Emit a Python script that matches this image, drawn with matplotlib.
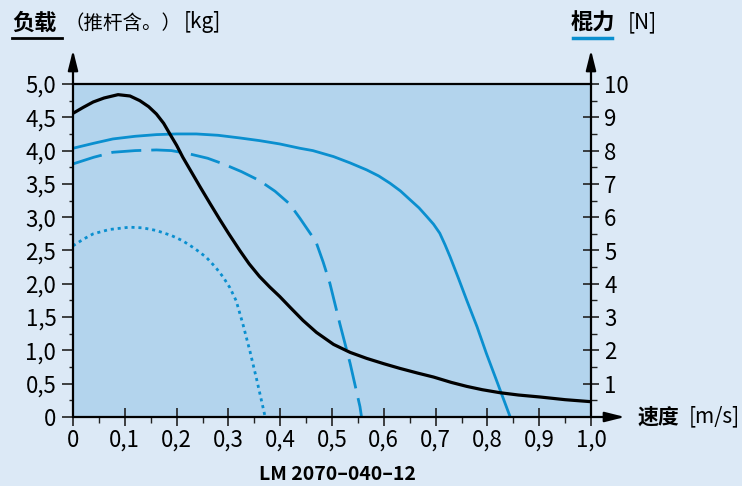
import matplotlib
matplotlib.use("Agg")
import matplotlib.pyplot as plt
from matplotlib.lines import Line2D

plt.rcParams['font.family'] = ['Noto Sans CJK SC', 'DejaVu Sans']

# datos
x_ticks = [0, 0.1, 0.2, 0.3, 0.4, 0.5, 0.6, 0.7, 0.8, 0.9, 1.0]
x_labels = ['0', '0,1', '0,2', '0,3', '0,4', '0,5', '0,6', '0,7', '0,8', '0,9', '1,0']
kg_ticks = [0, 0.5, 1.0, 1.5, 2.0, 2.5, 3.0, 3.5, 4.0, 4.5, 5.0]
kg_labels = ['0', '0,5', '1,0', '1,5', '2,0', '2,5', '3,0', '3,5', '4,0', '4,5', '5,0']
n_ticks = [1, 2, 3, 4, 5, 6, 7, 8, 9, 10]
n_labels = ['1', '2', '3', '4', '5', '6', '7', '8', '9', '10']

# carga [kg] (negro)
speed_load = [0, 0.02, 0.039, 0.06, 0.087, 0.11, 0.129, 0.146, 0.161, 0.175, 0.187,
              0.20, 0.212, 0.23, 0.245, 0.265, 0.283, 0.30, 0.322, 0.34, 0.360,
              0.38, 0.399, 0.42, 0.444, 0.470, 0.503, 0.535, 0.567, 0.60, 0.631,
              0.665, 0.696, 0.73, 0.760, 0.79, 0.824, 0.86, 0.902, 0.95, 1.0]
load = [4.56, 4.65, 4.73, 4.79, 4.84, 4.82, 4.75, 4.66, 4.55, 4.41, 4.25,
        4.08, 3.90, 3.66, 3.46, 3.20, 2.97, 2.76, 2.50, 2.30, 2.11,
        1.95, 1.81, 1.64, 1.45, 1.27, 1.09, 0.97, 0.88, 0.80, 0.73,
        0.66, 0.60, 0.52, 0.46, 0.41, 0.365, 0.33, 0.30, 0.26, 0.23]

# fuerza [N] (azul)
speed_solid = [0, 0.04, 0.077, 0.12, 0.161, 0.20, 0.238, 0.28, 0.322, 0.36, 0.399,
               0.438, 0.463, 0.503, 0.535, 0.567, 0.59, 0.612, 0.632, 0.651, 0.668,
               0.683, 0.696, 0.708, 0.718, 0.728, 0.744, 0.760, 0.78, 0.798, 0.82, 0.844]
force_solid = [8.07, 8.22, 8.35, 8.43, 8.48, 8.50, 8.50, 8.46, 8.38, 8.30, 8.20,
               8.07, 8.00, 7.82, 7.63, 7.42, 7.24, 7.02, 6.79, 6.52, 6.28,
               6.02, 5.79, 5.52, 5.18, 4.81, 4.17, 3.51, 2.71, 1.91, 1.00, 0]

speed_dashed = [0, 0.04, 0.077, 0.12, 0.161, 0.19, 0.225, 0.26, 0.290, 0.325, 0.360,
                0.39, 0.418, 0.438, 0.463, 0.470, 0.483, 0.496, 0.515, 0.535, 0.554, 0.557]
force_dashed = [7.60, 7.80, 7.95, 8.00, 8.02, 8.00, 7.90, 7.77, 7.60, 7.37, 7.10,
                6.78, 6.40, 5.97, 5.40, 5.22, 4.65, 4.01, 2.81, 1.61, 0.31, 0]

speed_dotted = [0, 0.02, 0.039, 0.07, 0.109, 0.135, 0.161, 0.19, 0.212, 0.235, 0.257,
                0.275, 0.290, 0.303, 0.315, 0.328, 0.342, 0.355, 0.371]
force_dotted = [5.14, 5.34, 5.50, 5.63, 5.70, 5.68, 5.60, 5.45, 5.29, 5.06, 4.80,
                4.50, 4.20, 3.88, 3.49, 2.79, 1.95, 1.10, 0]

bg = '#dce9f6'
area = '#b3d4ed'
blue = '#0a8fcf'
W, H = 742, 486


def fx(px):
    return px / W


def fy(py):
    return 1 - py / H


fig = plt.figure(figsize=(7.42, 4.86), dpi=100, facecolor=bg)
ax2 = fig.add_axes([fx(73), fy(417), fx(591) - fx(73), fy(84) - fy(417)])
ax = ax2.twinx()
ax2.yaxis.tick_right()
ax.yaxis.tick_left()
ax2.set_zorder(1)
ax.set_zorder(2)
ax2.patch.set_visible(True)
ax2.set_facecolor(area)
ax.patch.set_visible(False)

ax2.plot(speed_solid, force_solid, color=blue, lw=2)
ax2.plot(speed_dashed, force_dashed, color=blue, lw=2, dashes=(10.8, 3.6), dash_capstyle='butt')
ax2.plot(speed_dotted, force_dotted, color=blue, lw=2, dashes=(1.1, 1.4), dash_capstyle='butt')
ax.plot(speed_load, load, color='black', lw=2.3)

ax.set_xlim(0, 1.0)
ax.set_ylim(0, 5.0)
ax2.set_xlim(0, 1.0)
ax2.set_ylim(0, 10)

for a in (ax, ax2):
    for s in a.spines.values():
        s.set_visible(False)
ax.spines['top'].set_visible(True)
ax.spines['top'].set_linewidth(1.6)

ax2.set_xticks(x_ticks)
ax2.set_xticklabels(x_labels)
ax2.set_xticks([v / 100 for v in range(5, 100, 10)], minor=True)
ax2.tick_params(axis='x', which='major', direction='inout', length=13, width=1.2,
                colors='#222', labelcolor='black', labelsize=16, pad=2)
ax2.tick_params(axis='x', which='minor', direction='out', length=4, width=1, colors='#222')
ax.tick_params(axis='x', which='both', bottom=False, labelbottom=False)

ax2.set_yticks(n_ticks)
ax2.set_yticklabels(n_labels)
ax2.set_yticks([v + 0.5 for v in range(0, 10)], minor=True)
ax2.tick_params(axis='y', which='major', direction='inout', length=11, width=1.2,
                colors='#222', labelcolor='black', labelsize=16, pad=4)
ax2.tick_params(axis='y', which='minor', direction='out', length=4, width=1, colors='#222')

ax.set_yticks(kg_ticks)
ax.set_yticklabels(kg_labels)
ax.set_yticks([v / 4 for v in range(1, 20, 2)], minor=True)
ax.tick_params(axis='y', which='major', direction='out', length=8, width=1.2,
               colors='#222', labelcolor='black', labelsize=16, pad=4)
ax.tick_params(axis='y', which='minor', direction='out', length=3, width=1, colors='#222')

# ejes con flecha
arrow = dict(arrowstyle='-|>,head_length=0.6,head_width=0.15', color='black',
             lw=1.6, mutation_scale=20, shrinkA=0, shrinkB=0)
top = (417 - 50) / 333
ax.annotate('', xy=(0, top), xytext=(0, 0), xycoords='axes fraction', arrowprops=arrow)
ax.annotate('', xy=(1, top), xytext=(1, 0), xycoords='axes fraction', arrowprops=arrow)
ax.annotate('', xy=((625 - 73) / 518, 0), xytext=(0, 0), xycoords='axes fraction', arrowprops=arrow)

# textos
fig.text(fx(12), fy(23), '负载', fontsize=16, fontweight='bold', va='center')
fig.text(fx(64), fy(23), '（推杆含。）', fontsize=14, va='center')
fig.text(fx(184), fy(22), '[kg]', fontsize=15, va='center')
fig.lines.append(Line2D([fx(12), fx(62)], [fy(38), fy(38)], color='black', lw=2,
                        transform=fig.transFigure))
fig.text(fx(571), fy(23), '棍力', fontsize=16, fontweight='bold', va='center')
fig.text(fx(628), fy(22), '[N]', fontsize=15, va='center')
fig.lines.append(Line2D([fx(573), fx(612)], [fy(38), fy(38)], color=blue, lw=2.5,
                        transform=fig.transFigure))
fig.text(fx(638), fy(417), '速度', fontsize=15, fontweight='bold', va='center')
fig.text(fx(689), fy(416), '[m/s]', fontsize=15, va='center')
fig.text(fx(337), fy(474), 'LM 2070–040–12', fontsize=14, fontweight='bold',
         ha='center', va='center')

fig.savefig('out.png', dpi=100, facecolor=bg)
